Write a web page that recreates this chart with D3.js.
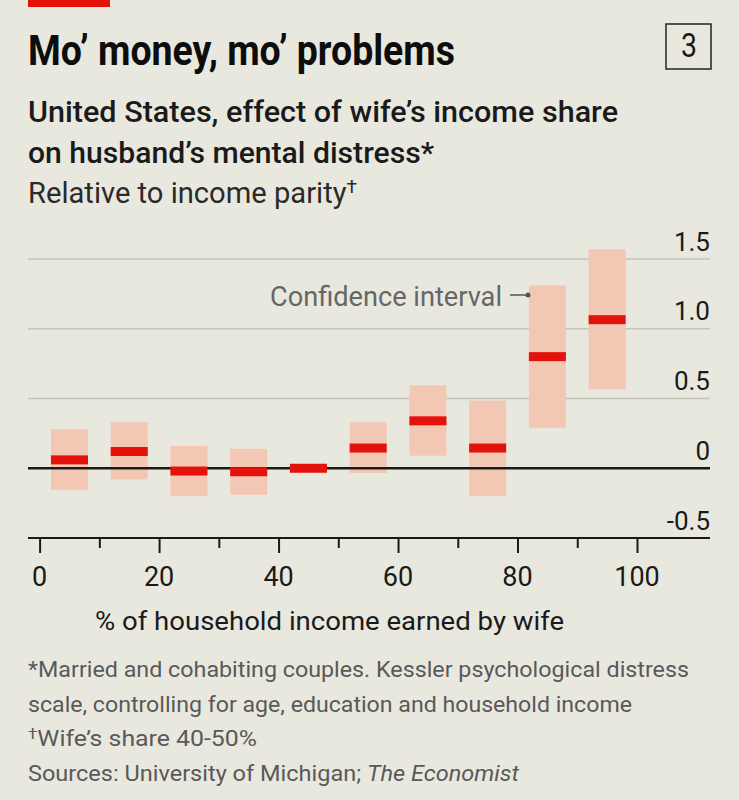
<!DOCTYPE html>
<html>
<head>
<meta charset="utf-8">
<script src="https://cdn.jsdelivr.net/npm/d3@7"></script>
<style>
  html, body { margin: 0; padding: 0; background: #e9e8df; }
  svg { display: block; font-family: Roboto, "Liberation Sans", sans-serif; }
</style>
</head>
<body>
<div id="chart"></div>
<script>
// wife's share of household income, bins of 10 points
let binMid = [5, 15, 25, 35, 45, 55, 65, 75, 85, 95];
let effect = [0.06, 0.12, -0.02, -0.025, 0, 0.145, 0.34, 0.145, 0.80, 1.065];
let ciLow  = [-0.155, -0.08, -0.20, -0.19, null, -0.035, 0.09, -0.20, 0.29, 0.565];
let ciHigh = [0.28, 0.33, 0.16, 0.14, null, 0.33, 0.595, 0.485, 1.31, 1.57];
let xTicks = [0, 10, 20, 30, 40, 50, 60, 70, 80, 90, 100];
let xLabels = [0, 20, 40, 60, 80, 100];
let yTicks = [-0.5, 0, 0.5, 1, 1.5];
let yLabels = ["-0.5", "0", "0.5", "1.0", "1.5"];

let data = binMid.map(function(m, i) {
    return { mid: m, val: effect[i], lo: ciLow[i], hi: ciHigh[i] };
});

let W = 739, H = 800;
let svg = d3.select("#chart").append("svg").attr("width", W).attr("height", H);
svg.append("rect").attr("width", W).attr("height", H).attr("fill", "#e9e8df");

let fit = function(sel, w) {
    return sel.attr("textLength", w).attr("lengthAdjust", "spacingAndGlyphs");
};

// header
svg.append("rect").attr("x", 28).attr("y", 0).attr("width", 82).attr("height", 7).attr("fill", "#e3120b");
fit(svg.append("text").attr("x", 28).attr("y", 65)
    .attr("font-size", 42).attr("font-weight", 700).attr("fill", "#0d0d0d")
    .text("Mo\u2019 money, mo\u2019 problems"), 427);
svg.append("rect").attr("x", 666).attr("y", 24).attr("width", 45).attr("height", 45)
    .attr("fill", "none").attr("stroke", "#222").attr("stroke-width", 1.5);
fit(svg.append("text").attr("x", 681).attr("y", 57)
    .attr("font-size", 34).attr("fill", "#1a1a1a").text("3"), 16);

fit(svg.append("text").attr("x", 28).attr("y", 122)
    .attr("font-size", 30).attr("font-weight", 500).attr("fill", "#1a1a1a")
    .text("United States, effect of wife\u2019s income share"), 590);
fit(svg.append("text").attr("x", 28).attr("y", 163)
    .attr("font-size", 30).attr("font-weight", 500).attr("fill", "#1a1a1a")
    .text("on husband\u2019s mental distress*"), 406);
let rel = svg.append("text").attr("x", 28).attr("y", 203)
    .attr("font-size", 29).attr("fill", "#2a2a2a");
rel.append("tspan").text("Relative to income parity");
rel.append("tspan").attr("dy", -10).attr("font-size", 19).text("\u2020");
fit(rel, 329);

// scales
let x = d3.scaleLinear().domain([0, 100]).range([39.6, 637]);
let y = d3.scaleLinear().domain([-0.5, 1.5]).range([538, 259]);
let barW = x(6.2) - x(0);

// gridlines
svg.append("g").selectAll("line").data(yTicks.filter(function(t) { return t > 0; }))
    .enter().append("line")
    .attr("x1", 28).attr("x2", 710)
    .attr("y1", function(d) { return y(d); }).attr("y2", function(d) { return y(d); })
    .attr("stroke", "#c5c4bc").attr("stroke-width", 1.5);

svg.append("g").selectAll("text").data(yTicks).enter().append("text")
    .attr("x", 710).attr("y", function(d) { return y(d) - 8.5; })
    .attr("text-anchor", "end").attr("font-size", 26).attr("fill", "#1a1a1a")
    .text(function(d, i) { return yLabels[i]; });

// confidence intervals
svg.append("g").selectAll("rect").data(data.filter(function(d) { return d.lo !== null; }))
    .enter().append("rect")
    .attr("x", function(d) { return x(d.mid) - barW / 2; })
    .attr("width", barW)
    .attr("y", function(d) { return y(d.hi); })
    .attr("height", function(d) { return y(d.lo) - y(d.hi); })
    .attr("fill", "#f2c8b4");

// zero line
svg.append("line").attr("x1", 28).attr("x2", 710).attr("y1", y(0)).attr("y2", y(0))
    .attr("stroke", "#1a1a1a").attr("stroke-width", 2.5);

// point estimates
svg.append("g").selectAll("rect").data(data).enter().append("rect")
    .attr("x", function(d) { return x(d.mid) - barW / 2; })
    .attr("width", barW)
    .attr("y", function(d) { return y(d.val) - 4.5; })
    .attr("height", 9)
    .attr("fill", "#e3120b");

// annotation
fit(svg.append("text").attr("x", 270).attr("y", 306)
    .attr("font-size", 27).attr("fill", "#666")
    .text("Confidence interval"), 232);
svg.append("line").attr("x1", 510).attr("x2", 528).attr("y1", 295).attr("y2", 295)
    .attr("stroke", "#555").attr("stroke-width", 1.5);
svg.append("circle").attr("cx", 528).attr("cy", 295).attr("r", 2.5).attr("fill", "#555");

// x axis
svg.append("line").attr("x1", 28).attr("x2", 710).attr("y1", 538).attr("y2", 538)
    .attr("stroke", "#1a1a1a").attr("stroke-width", 2);
let xAxis = svg.append("g").attr("transform", "translate(0,539)")
    .call(d3.axisBottom(x).tickValues(xTicks).tickSize(14).tickFormat(""));
xAxis.select(".domain").remove();
xAxis.selectAll(".tick line")
    .attr("stroke", "#1a1a1a").attr("stroke-width", 2)
    .attr("y2", function(d) { return d % 20 === 0 ? 14 : 9; });

svg.append("g").selectAll("text").data(xLabels).enter().append("text")
    .attr("x", function(d) { return x(d); }).attr("y", 586)
    .attr("text-anchor", "middle").attr("font-size", 27).attr("fill", "#1a1a1a")
    .text(function(d) { return d; });

fit(svg.append("text").attr("x", 95).attr("y", 630)
    .attr("font-size", 26).attr("fill", "#1a1a1a")
    .text("% of household income earned by wife"), 469);

// footnotes
let notes = [
    ["*Married and cohabiting couples. Kessler psychological distress", 661],
    ["scale, controlling for age, education and household income", 604]
];
notes.forEach(function(n, i) {
    fit(svg.append("text").attr("x", 28).attr("y", 677 + i * 34.5)
        .attr("font-size", 22).attr("fill", "#595959").text(n[0]), n[1]);
});
let wife = svg.append("text").attr("x", 28).attr("y", 746)
    .attr("font-size", 22).attr("fill", "#595959");
wife.append("tspan").attr("dy", -7).attr("font-size", 15).text("\u2020");
wife.append("tspan").attr("dy", 7).text("Wife\u2019s share 40-50%");
fit(wife, 229);
let src = svg.append("text").attr("x", 28).attr("y", 781)
    .attr("font-size", 22).attr("fill", "#595959");
src.append("tspan").text("Sources: University of Michigan; ");
src.append("tspan").attr("font-style", "italic").text("The Economist");
fit(src, 491);
</script>
</body>
</html>
